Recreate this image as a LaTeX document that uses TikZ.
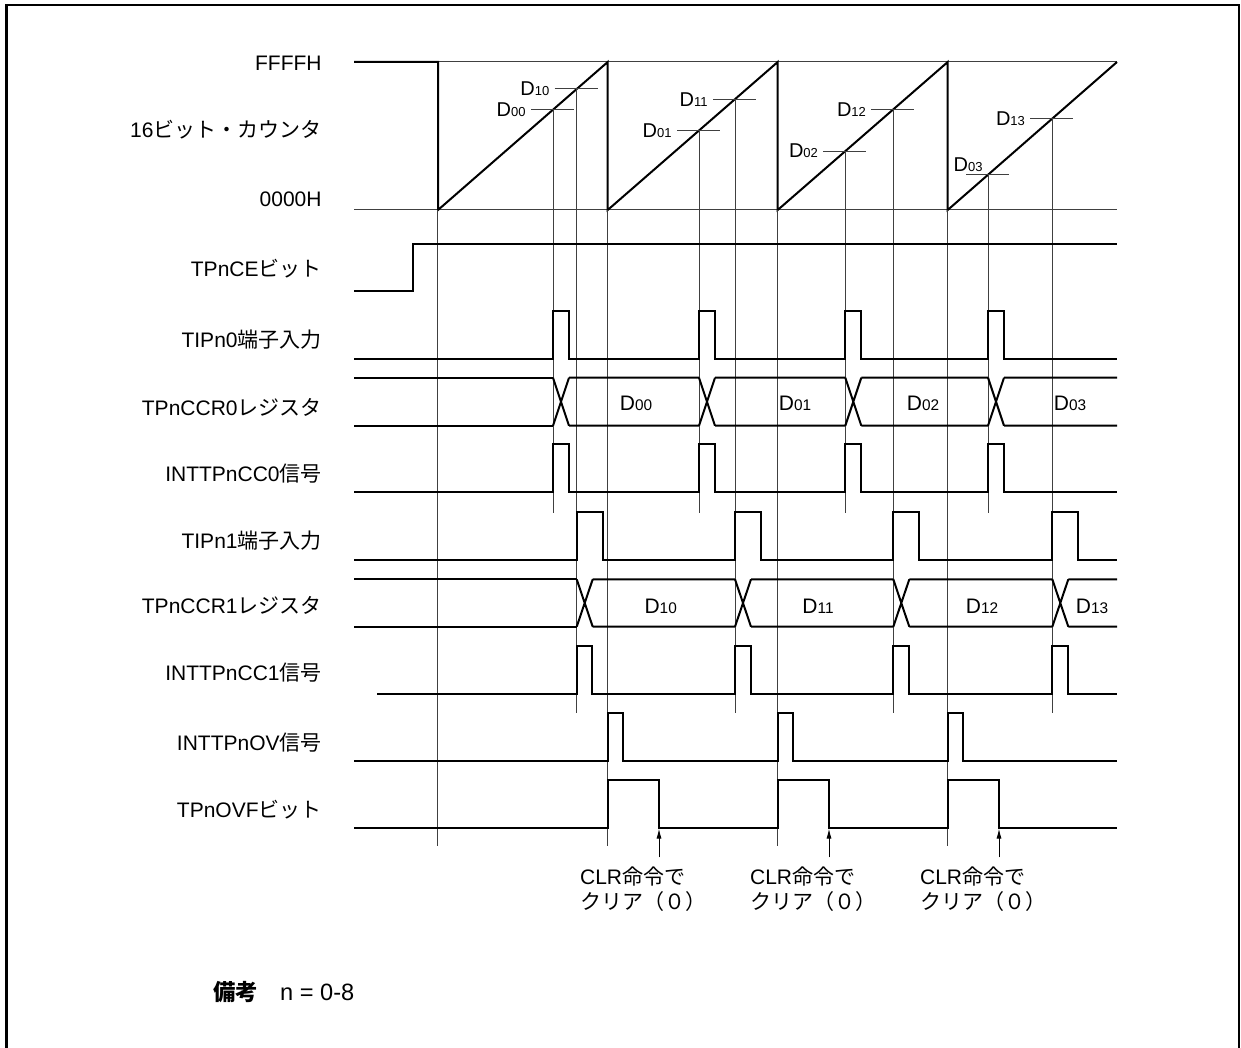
\documentclass[tikz,border=0pt]{standalone}
\usepackage{fontspec}
\setmainfont{Liberation Sans}
\newfontfamily\jpfont{Noto Sans CJK JP}[Scale=1.0]
\usetikzlibrary{arrows.meta}
\newcommand{\jp}[1]{{\jpfont #1}}
\newcommand{\Dv}[2]{D{\fontsize{#1}{#1}\selectfont #2}}

\begin{document}
\begin{tikzpicture}[x=0.5pt,y=-0.5pt,
  sig/.style={line width=1pt, line join=miter},
  guide/.style={line width=0.5pt, black!75},
  lbl/.style={anchor=base east, inner sep=0pt, font=\fontsize{10.5}{12}\selectfont},
  cnt/.style={anchor=east, inner sep=0pt, font=\fontsize{10}{11}\selectfont},
  dat/.style={inner sep=0pt, font=\fontsize{10.5}{12}\selectfont}]
  \useasboundingbox (0,0) rectangle (1241,1048);
  \draw[line width=1.1pt] (6.5,4.7) rectangle (1239,1100);

  \foreach \t/\y [count=\i] in {FFFFH/64, 16\jp{ビット・カウンタ}/131, 0000H/200,
      TPnCE\jp{ビット}/270, TIPn0\jp{端子入力}/340, TPnCCR0\jp{レジスタ}/408,
      INTTPnCC0\jp{信号}/474, TIPn1\jp{端子入力}/541, TPnCCR1\jp{レジスタ}/606,
      INTTPnCC1\jp{信号}/673, INTTPnOV\jp{信号}/743, TPnOVF\jp{ビット}/810}
    \node[lbl] (lab\i) at (322,\y+7) {\t};

  % counter
  \draw[guide] (438,62) -- (1117,62);
  \draw[guide] (354,210) -- (1117,210);
  \draw[sig] (354,62) -- (438,62) -- (438,210) -- (607.7,62) -- (607.7,210) -- (777.7,62)
    -- (777.7,210) -- (947.7,62) -- (947.7,210) -- (1117,62);
  \foreach \x/\y/\n in {553/109.6/00, 699/130.5/01, 845.3/151.1/02, 988/174.9/03} {
    \draw[guide] (\x-22,\y) -- (\x+21,\y);
    \draw[guide] (\x,\y) -- (\x,513);}
  \foreach \x/\y/\n in {553/109.6/00, 699/130.5/01, 845.3/151.1/02}
    \node[cnt] (cap\n) at (\x-27,\y) {\Dv{6.5}{\n}};
  \node[cnt, anchor=base east] (cap03) at (983,171.7) {\Dv{6.5}{03}};
  \foreach \x/\y/\n in {576.7/89/10, 735/99.2/11, 893.3/109.4/12, 1052.3/118.9/13} {
    \draw[guide] (\x-22,\y) -- (\x+21,\y);
    \draw[guide] (\x,\y) -- (\x,713);
    \node[cnt] (cap\n) at (\x-27,\y) {\Dv{6.5}{\n}};}
  \foreach \x in {437.7,607.7,777.7,947.7}
    \draw[guide] (\x,210) -- (\x,846);

  % TPnCE
  \draw[sig] (354,291.3) -- (413,291.3) -- (413,244) -- (1117,244);

  % pulses
  \draw[sig] (354,359) \foreach \x in {553,699,845.3,988} { -- (\x,359) -- (\x,311) -- ++(15.5,0) -- ++(0,48)} -- (1117,359);
  \draw[sig] (354,492.3) \foreach \x in {553,699,845.3,988} { -- (\x,492.3) -- (\x,444.3) -- ++(15.5,0) -- ++(0,48)} -- (1117,492.3);
  \draw[sig] (354,560) \foreach \x in {576.7,735,893.3,1052.3} { -- (\x,560) -- (\x,512) -- ++(26,0) -- ++(0,48)} -- (1117,560);
  \draw[sig] (377.3,694.3) \foreach \x in {576.7,735,893.3,1052.3} { -- (\x,694.3) -- (\x,646.3) -- ++(15.5,0) -- ++(0,48)} -- (1117,694.3);
  \draw[sig] (354,760.7) \foreach \x in {607.7,777.7,947.7} { -- (\x,760.7) -- (\x,712.7) -- ++(15.6,0) -- ++(0,48)} -- (1117,760.7);
  \draw[sig] (354,827.7) \foreach \x in {607.7,777.7,947.7} { -- (\x,827.7) -- (\x,779.7) -- ++(51.3,0) -- ++(0,48)} -- (1117,827.7);

  % registers
  \draw[sig] (354,377.7) -- (553,377.7) (354,425.7) -- (553,425.7);
  \foreach \x/\nx in {553/699, 699/845.3, 845.3/988, 988/1117}
    \draw[sig] (\x,377.7) -- ++(16,48) (\x,425.7) -- ++(16,-48)
      (\x+16,377.7) -- (\nx,377.7) (\x+16,425.7) -- (\nx,425.7);
  \foreach \x/\n in {636/00, 795/01, 923/02, 1070/03}
    \node[dat] (reg\n) at (\x,403) {\Dv{7.7}{\n}};
  \draw[sig] (354,579.3) -- (576.7,579.3) (354,626.7) -- (576.7,626.7);
  \foreach \x/\nx in {576.7/735, 735/893.3, 893.3/1052.3, 1052.3/1117}
    \draw[sig] (\x,579.3) -- ++(16,47.4) (\x,626.7) -- ++(16,-47.4)
      (\x+16,579.3) -- (\nx,579.3) (\x+16,626.7) -- (\nx,626.7);
  \foreach \x/\n in {660.7/10, 818/11, 982/12, 1092/13}
    \node[dat] (reg\n) at (\x,606) {\Dv{7.7}{\n}};

  % CLR
  \foreach \x [count=\i] in {607.7,777.7,947.7} {
    \coordinate (clr\i) at (\x+51.3,857.3);
    \coordinate (ovf\i) at (\x+51.3,828.5);
    \draw[guide, black, -{Latex[length=5pt,width=2.5pt]}] (clr\i) -- (ovf\i);
    \node[anchor=north west, align=left, inner sep=0pt, font=\fontsize{10.5}{12.5}\selectfont]
      (clrtxt\i) at (\x-28,866) {CLR\jp{命令で}\\\jp{クリア（０）}};}

  \node[anchor=base west, inner sep=0pt, font=\fontsize{11.8}{12}\selectfont] (note) at (213,1000)
    {{\jpfont\fontsize{11.2}{12}\selectfont\bfseries 備考}\hspace{11pt}n = 0-8};
\end{tikzpicture}
\end{document}
